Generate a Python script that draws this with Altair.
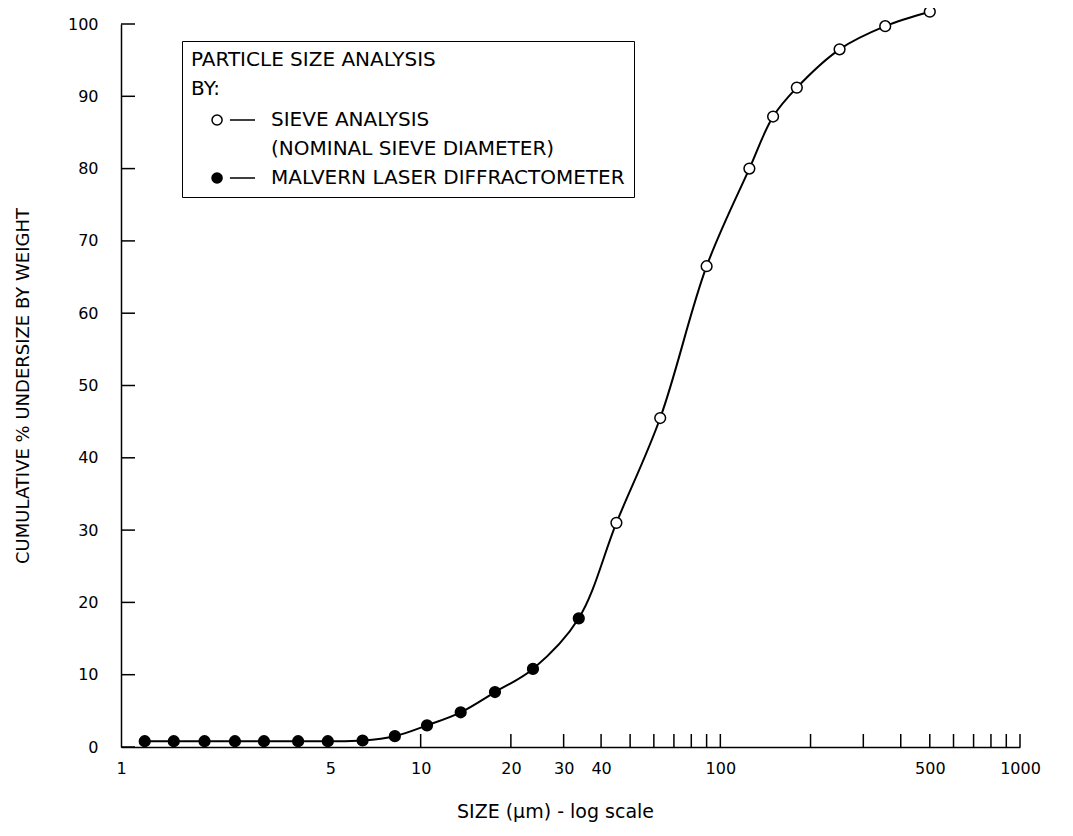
import altair as alt
import pandas as pd

# ---- data ----
malvern_size = [1.2, 1.5, 1.9, 2.4, 3.0, 3.9, 4.9, 6.4, 8.2, 10.5, 13.6, 17.7, 23.7, 33.7]
malvern_pct = [0.8, 0.8, 0.8, 0.8, 0.8, 0.8, 0.8, 0.9, 1.5, 3.0, 4.8, 7.6, 10.8, 17.8]
sieve_size = [45, 63, 90, 125, 150, 180, 250, 355, 500]
sieve_pct = [31.0, 45.5, 66.5, 80.0, 87.2, 91.2, 96.5, 99.7, 101.7]

y_tick_values = [0, 10, 20, 30, 40, 50, 60, 70, 80, 90, 100]
x_tick_values = [10, 20, 30, 40, 50, 60, 70, 80, 90, 100,
                 200, 300, 400, 500, 600, 700, 800, 900, 1000]
x_label_values = [1, 5, 10, 20, 30, 40, 100, 500, 1000]

SIEVE = "SIEVE ANALYSIS"
SIEVE_NOTE = "(NOMINAL SIEVE DIAMETER)"
MALVERN = "MALVERN LASER DIFFRACTOMETER"
legend_entries = [SIEVE, SIEVE_NOTE, MALVERN]
legend_fills = ["white", "transparent", "black"]
legend_strokes = ["black", "transparent", "black"]

pts = pd.DataFrame({
    "size": sieve_size + malvern_size,
    "pct": sieve_pct + malvern_pct,
    "series": [SIEVE] * len(sieve_size) + [MALVERN] * len(malvern_size),
})
curve = pts.sort_values("size").reset_index(drop=True)
ytk = pd.DataFrame({"pct": y_tick_values})
xtk = pd.DataFrame({"size": x_tick_values})

W, H = 899, 723
FONT = "DejaVu Sans"

xscale = alt.Scale(type="log", domain=[1, 1000], nice=False)
yscale = alt.Scale(domain=[0, 100], nice=False, zero=True)

xaxis = alt.Axis(
    values=x_label_values, format="d", ticks=False, grid=False,
    domainColor="black", domainWidth=1.5, labelPadding=13,
    labelFont=FONT, labelFontSize=16, labelColor="black",
    labelFlush=False, labelOverlap=False,
    title="SIZE (µm) - log scale", titleFont=FONT, titleFontSize=19,
    titleFontWeight="normal", titleColor="black", titlePadding=26,
    titleX=434, titleAnchor="start", titleAlign="center",
)
yaxis = alt.Axis(
    values=y_tick_values, ticks=False, grid=False,
    domainColor="black", domainWidth=1.5, labelPadding=23,
    labelFont=FONT, labelFontSize=16, labelColor="black",
    labelFlush=False, labelOverlap=False,
    title="CUMULATIVE  % UNDERSIZE BY WEIGHT", titleFont=FONT, titleFontSize=18,
    titleFontWeight="normal", titleColor="black", titlePadding=35,
)

X = lambda: alt.X("size:Q", scale=xscale, axis=xaxis)
Y = lambda: alt.Y("pct:Q", scale=yscale, axis=yaxis)

line = alt.Chart(curve).mark_line(
    color="black", strokeWidth=2, interpolate="catmull-rom"
).encode(x=X(), y=Y())

ytick_layer = alt.Chart(ytk).mark_rule(color="black", strokeWidth=1.5).encode(
    y=Y(), x=alt.value(0), x2=alt.value(14)
)
xtick_layer = alt.Chart(xtk).mark_rule(color="black", strokeWidth=1.5).encode(
    x=X(), y=alt.value(H), y2=alt.value(H - 13)
)

SYMBOL = ("M 1.15 0 A 0.36 0.36 0 1 1 0.43 0 A 0.36 0.36 0 1 1 1.15 0 Z "
          "M 1.71 0 L 3.5 0")

legend = alt.Legend(
    title=["PARTICLE SIZE ANALYSIS", "BY:"],
    orient="none", legendX=61, legendY=17,
    strokeColor="black", fillColor="white", padding=9,
    symbolType=SYMBOL, symbolSize=28 * 28, symbolStrokeWidth=1.5,
    labelFont=FONT, labelFontSize=20, labelColor="black", labelLimit=1000,
    labelOffset=50,
    titleFont=FONT, titleFontSize=20, titleFontWeight="normal",
    titleColor="black", titleLineHeight=29, titlePadding=6, titleLimit=1000,
    rowPadding=4,
)

points = alt.Chart(pts).mark_point(
    shape="circle", size=115, filled=True, strokeWidth=1.5, opacity=1
).encode(
    x=X(), y=Y(),
    fill=alt.Fill("series:N",
                  scale=alt.Scale(domain=legend_entries, range=legend_fills),
                  legend=legend),
    stroke=alt.Stroke("series:N",
                      scale=alt.Scale(domain=legend_entries, range=legend_strokes),
                      legend=legend),
)

chart = alt.layer(line, ytick_layer, xtick_layer, points).properties(
    width=W, height=H,
    padding={"left": 113, "top": 16, "right": 40, "bottom": 80},
    autosize=alt.AutoSizeParams(type="none"),
    background="white",
).configure_view(stroke=None)

chart.save("out.html", embed_options={"renderer": "svg", "actions": False})
